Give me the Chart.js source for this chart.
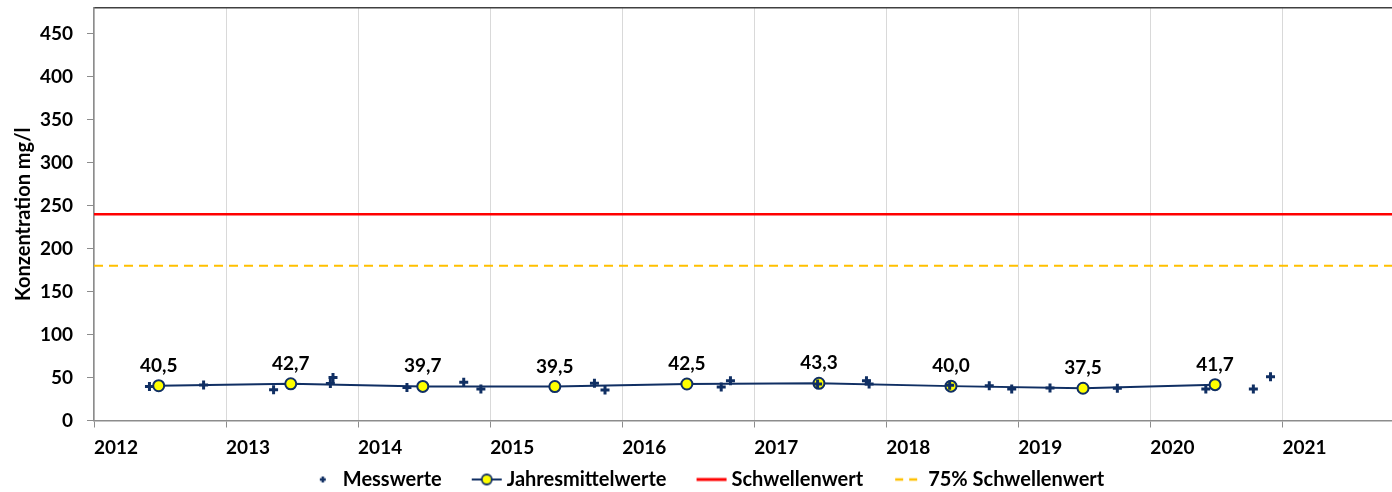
<!DOCTYPE html>
<html>
<head>
<meta charset="utf-8">
<script src="https://cdn.jsdelivr.net/npm/chart.js@4/dist/chart.umd.min.js"></script>
<style>
  body { margin: 0; background: #fff; }
  #wrap { width: 1392px; height: 492px; position: relative; }
</style>
</head>
<body>
<div id="wrap"><canvas id="chart"></canvas></div>
<script>
// Messwerte (Einzelmessungen): Zeitpunkt als Dezimaljahr + Konzentration
const messX = [2012.42, 2012.83, 2013.36, 2013.79, 2013.81, 2014.37, 2014.80, 2014.93,
               2015.79, 2015.87, 2016.75, 2016.82, 2017.48, 2017.85, 2017.87, 2018.48,
               2018.78, 2018.95, 2019.24, 2019.75, 2020.42, 2020.78, 2020.91];
const messY = [39.5, 41.4, 35.9, 43.2, 50.0, 38.3, 44.5, 36.7,
               43.3, 35.6, 39.0, 46.4, 42.5, 46.4, 42.5, 41.0,
               40.5, 36.7, 37.9, 37.5, 36.7, 36.7, 51.0];

// Jahresmittelwerte
const jahrX = [2012.49, 2013.49, 2014.49, 2015.49, 2016.49, 2017.49, 2018.49, 2019.49, 2020.49];
const jahrY = [40.5, 42.7, 39.7, 39.5, 42.5, 43.3, 40.0, 37.5, 41.7];

// Schwellenwerte
const schwelle = 240;
const schwelle75 = 180;

// Achsen
const xMin = 2012, xMax = 2021.83;
const yMin = 0, yMax = 480, yStep = 50;

const NAVY = '#102f63';
const FONT = 'Lato, "Open Sans", sans-serif';

// kleine Legendensymbole im Excel-Stil (Symbol rechts im Bild, damit der Text direkt anschliesst)
const BOX_W = 45, LEG_FS = 20;
function legendIcon(draw) {
  const c = document.createElement('canvas');
  c.width = BOX_W + LEG_FS;
  c.height = 18;
  const g = c.getContext('2d');
  const x0 = c.width - 35, x1 = c.width - 5, cy = 9;
  draw(g, x0, x1, cy);
  return c;
}
const iconMess = legendIcon((g, x0, x1, cy) => {
  const cx = (x0 + x1) / 2;
  g.strokeStyle = NAVY; g.lineWidth = 2.5;
  g.beginPath();
  g.moveTo(cx - 3, cy); g.lineTo(cx + 3, cy);
  g.moveTo(cx, cy - 3); g.lineTo(cx, cy + 3);
  g.stroke();
});
const iconJahr = legendIcon((g, x0, x1, cy) => {
  const cx = (x0 + x1) / 2;
  g.strokeStyle = NAVY; g.lineWidth = 2;
  g.beginPath(); g.moveTo(x0, cy); g.lineTo(x1, cy); g.stroke();
  g.fillStyle = '#ffff00'; g.lineWidth = 1.8;
  g.beginPath(); g.arc(cx, cy, 5, 0, Math.PI * 2); g.fill(); g.stroke();
});
const iconRot = legendIcon((g, x0, x1, cy) => {
  g.strokeStyle = '#ff0000'; g.lineWidth = 3;
  g.beginPath(); g.moveTo(x0, cy); g.lineTo(x1, cy); g.stroke();
});
const iconGelb = legendIcon((g, x0, x1, cy) => {
  g.strokeStyle = '#ffc000'; g.lineWidth = 2.5;
  g.setLineDash([8, 6]);
  g.beginPath(); g.moveTo(x0 + 2, cy); g.lineTo(x1, cy); g.stroke();
});
const icons = [iconMess, iconJahr, iconRot, iconGelb];

// Beschriftung der Jahresmittelwerte
const mittelLabels = {
  id: 'mittelLabels',
  afterDatasetsDraw(chart) {
    const ctx = chart.ctx;
    const meta = chart.getDatasetMeta(1);
    ctx.save();
    ctx.font = 'bold 19px ' + FONT;
    ctx.fillStyle = '#000';
    ctx.textAlign = 'center';
    ctx.textBaseline = 'alphabetic';
    meta.data.forEach((pt, i) => {
      ctx.fillText(jahrY[i].toFixed(1).replace('.', ','), pt.x, pt.y - 14);
    });
    ctx.restore();
  }
};

const ctx = document.getElementById('chart').getContext('2d');
new Chart(ctx, {
  type: 'line',
  data: {
    datasets: [
      {
        label: 'Messwerte',
        data: messX.map((x, i) => ({ x: x, y: messY[i] })),
        showLine: false,
        pointStyle: 'cross',
        pointRadius: 4.5,
        pointBorderWidth: 3,
        borderColor: NAVY,
        backgroundColor: NAVY
      },
      {
        label: 'Jahresmittelwerte',
        data: jahrX.map((x, i) => ({ x: x, y: jahrY[i] })),
        borderColor: NAVY,
        borderWidth: 2,
        pointRadius: 5.5,
        pointBorderWidth: 2,
        pointBackgroundColor: '#ffff00',
        pointBorderColor: NAVY,
        tension: 0
      },
      {
        label: 'Schwellenwert',
        data: [{ x: xMin, y: schwelle }, { x: xMax, y: schwelle }],
        borderColor: '#ff0000',
        borderWidth: 2.5,
        pointRadius: 0
      },
      {
        label: '75% Schwellenwert',
        data: [{ x: xMin, y: schwelle75 }, { x: xMax, y: schwelle75 }],
        borderColor: '#ffc000',
        borderWidth: 2,
        borderDash: [9, 6],
        pointRadius: 0
      }
    ]
  },
  options: {
    responsive: true,
    maintainAspectRatio: false,
    animation: false,
    layout: { autoPadding: false, padding: { top: 8, right: 0, bottom: -7.5, left: 0 } },
    plugins: {
      tooltip: { enabled: false },
      legend: {
        position: 'bottom',
        labels: {
          usePointStyle: true,
          pointStyleWidth: BOX_W,
          boxHeight: LEG_FS,
          padding: 10,
          color: '#000',
          font: { family: FONT, size: LEG_FS, weight: 'bold' },
          generateLabels: chart => chart.data.datasets.map((ds, i) => ({
            text: ds.label,
            pointStyle: icons[i],
            fillStyle: 'transparent',
            strokeStyle: 'transparent',
            lineWidth: 0,
            datasetIndex: i,
            hidden: false
          }))
        }
      }
    },
    scales: {
      x: {
        type: 'linear',
        min: xMin,
        max: xMax,
        ticks: {
          stepSize: 1,
          includeBounds: false,
          align: 'start',
          padding: 9,
          maxRotation: 0,
          color: '#000',
          font: { family: FONT, size: 19, weight: 'bold' },
          callback: v => String(v)
        },
        grid: { color: '#d9d9d9', tickColor: '#8c8c8c', tickLength: 7, lineWidth: 1 },
        border: { color: '#8c8c8c', width: 1.5 },
        afterFit: s => { s.height = 39; s.paddingLeft = 0; s.paddingRight = 0; }
      },
      x2: {
        type: 'linear',
        position: 'top',
        min: xMin,
        max: xMax,
        ticks: { display: false },
        grid: { display: false, drawTicks: false },
        border: { display: true, color: '#404040', width: 1.5 },
        afterFit: s => { s.height = 0; s.paddingLeft = 0; s.paddingRight = 0; }
      },
      y: {
        min: yMin,
        max: yMax,
        ticks: {
          stepSize: yStep,
          includeBounds: false,
          padding: 14,
          color: '#000',
          font: { family: FONT, size: 19, weight: 'bold' }
        },
        grid: { drawOnChartArea: false, tickColor: '#8c8c8c', tickLength: 7 },
        border: { color: '#8c8c8c', width: 1.5 },
        title: {
          display: true,
          text: 'Konzentration mg/l',
          color: '#000',
          padding: { top: 12, bottom: 4 },
          font: { family: FONT, size: 20, weight: 'bold' }
        },
        afterFit: s => { s.width = 94; s.paddingTop = 0; s.paddingBottom = 0; }
      }
    }
  },
  plugins: [mittelLabels]
});
</script>
</body>
</html>
